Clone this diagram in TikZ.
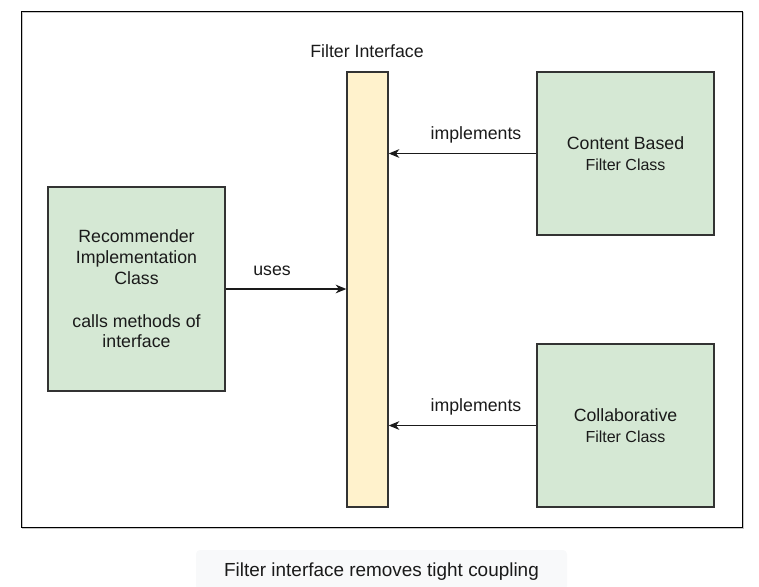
\documentclass[tikz,border=0pt]{standalone}
\usepackage{fontspec}
\setmainfont{Liberation Sans}
\usetikzlibrary{arrows.meta}
\definecolor{boxgreen}{HTML}{D5E8D4}
\definecolor{boxyellow}{HTML}{FFF2CC}
\definecolor{boxline}{HTML}{333333}
\definecolor{captionbg}{HTML}{F8F9FA}
\definecolor{txt}{HTML}{1A1A1A}
\tikzset{
  px/.style={x=0.75pt,y=-0.75pt},
  classbox/.style={draw=boxline, line width=1pt, fill=boxgreen, align=center, text=txt,
    minimum width=132.75pt, inner sep=0pt, font=\fontsize{13.3}{15.4}\selectfont},
  ifacebar/.style={draw=boxline, line width=1pt, fill=boxyellow, minimum width=30.75pt,
    minimum height=326.25pt, inner sep=0pt},
  lbl/.style={text=txt, font=\fontsize{13.3}{15.4}\selectfont, inner sep=0pt},
  conn/.style={draw=txt, line width=0.9pt, -{Stealth[length=8pt,width=6.5pt,inset=2.5pt]}},
}
\begin{document}
\begin{tikzpicture}[px]
\useasboundingbox (0,0) rectangle (759,586);
% outer frame
\draw[gray!45, line width=0.75pt] (22,12) rectangle (743,528);
\draw[black, line width=0.75pt] (21,11) rectangle (742,527);
% nodes
\node[classbox, minimum height=153pt] (rec) at (136.5,289)
  {Recommender\\Implementation\\Class\\[17pt]calls methods of\\interface};
\node[ifacebar] (bar) at (367.5,289.5) {};
\node[lbl, anchor=base] (barlbl) at (367,57) {Filter Interface};
\node[classbox, minimum height=122.25pt] (cb) at (625.5,153.5)
  {Content Based\\{\fontsize{12}{14}\selectfont Filter Class}};
\node[classbox, minimum height=122.25pt] (co) at (625.5,425.5)
  {Collaborative\\{\fontsize{12}{14}\selectfont Filter Class}};
% connectors
\draw[conn] (rec.east) -- (rec.east -| bar.west);
\draw[conn] (cb.west) -- (cb.west -| bar.east);
\draw[conn] (co.west) -- (co.west -| bar.east);
% labels
\node[lbl, anchor=base] (uses) at (272,275) {uses};
\node[lbl, anchor=base] (imp1) at (476,139) {implements};
\node[lbl, anchor=base] (imp2) at (476,411) {implements};
% caption
\fill[captionbg, rounded corners=3pt] (196,550) rectangle (567,590);
\node[text=txt, font=\fontsize{14.2}{17}\selectfont, anchor=base, inner sep=0pt] (cap) at (381.5,576) {Filter interface removes tight coupling};
\end{tikzpicture}
\end{document}
